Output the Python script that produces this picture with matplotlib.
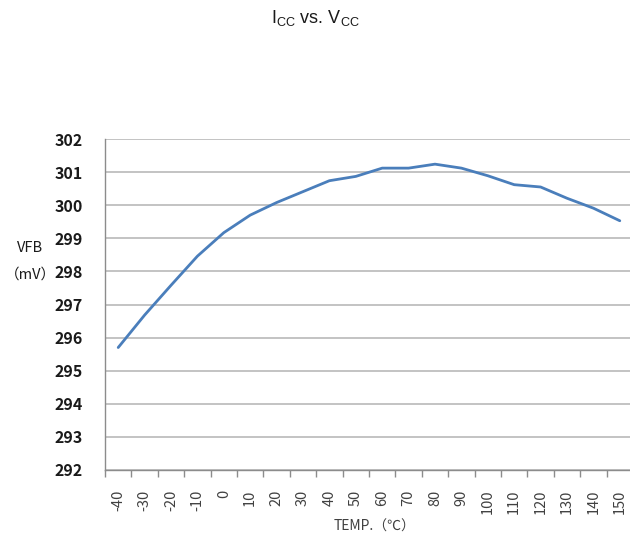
import matplotlib
matplotlib.use("Agg")
import matplotlib.pyplot as plt
import numpy as np

# Feedback voltage versus temperature
temps = [-40, -30, -20, -10, 0, 10, 20, 30, 40, 50, 60, 70, 80, 90, 100, 110, 120, 130, 140, 150]
vfb = [295.70, 296.68, 297.58, 298.46, 299.17, 299.70, 300.08, 300.41, 300.74, 300.87,
       301.12, 301.12, 301.24, 301.12, 300.89, 300.62, 300.55, 300.21, 299.91, 299.53]
y_ticks = [292, 293, 294, 295, 296, 297, 298, 299, 300, 301, 302]

W, H = 630, 542
fig = plt.figure(figsize=(W / 100, H / 100), dpi=100)
left, right, top, bottom = 105, 630, 139, 470
ax = fig.add_axes([left / W, 1 - bottom / H, (right - left) / W, (bottom - top) / H])

cjk = ["Noto Sans CJK SC", "DejaVu Sans"]
idx = np.arange(len(temps))
ax.plot(idx, vfb, color="#4A7EBB", linewidth=2.0, solid_capstyle="round", zorder=3)

ax.set_ylim(292, 302)
ax.set_yticks(y_ticks)
ax.set_yticklabels([str(v) for v in y_ticks], family=cjk, fontsize=11.5,
                   fontweight="bold", color="#1a1a1a")
ax.yaxis.grid(True, color="#b3b3b3", linewidth=1.1, zorder=0)
ax.tick_params(axis="y", length=0, pad=16)

spacing = 26.4
ax.set_xlim(-0.5, -0.5 + (right - left) / spacing)
ax.set_xticks(idx)
ax.set_xticklabels([str(t) for t in temps], rotation=90, family=cjk, fontsize=10.5,
                   color="#404040")
ax.set_xticks(np.arange(len(temps)) - 0.5, minor=True)
ax.tick_params(axis="x", which="major", length=0, pad=14)
ax.tick_params(axis="x", which="minor", length=5, width=1, color="#8c8c8c", direction="out")

for s in ["top", "right"]:
    ax.spines[s].set_visible(False)
ax.spines["left"].set_color("#8c8c8c")
ax.spines["bottom"].set_color("#8c8c8c")
ax.spines["left"].set_linewidth(1.0)
ax.spines["bottom"].set_linewidth(1.0)

fig.text(30 / W, 1 - 248 / H, "VFB", family=cjk, fontsize=10.5, color="#1a1a1a",
         ha="center", va="center")
fig.text(30 / W, 1 - 275 / H, "（mV）", family=cjk, fontsize=10.5, color="#1a1a1a",
         ha="center", va="center")
fig.text(375 / W, 1 - 527 / H, "TEMP.（℃）", family=cjk, fontsize=10, color="#404040",
         ha="center", va="center")

fig.text(315 / W, 1 - 18 / H, r"I$_{\mathregular{CC}}$ vs. V$_{\mathregular{CC}}$",
         family="Liberation Sans", fontsize=13, color="#1a1a1a", ha="center", va="center")

fig.savefig("out.png", dpi=100, facecolor="white")
